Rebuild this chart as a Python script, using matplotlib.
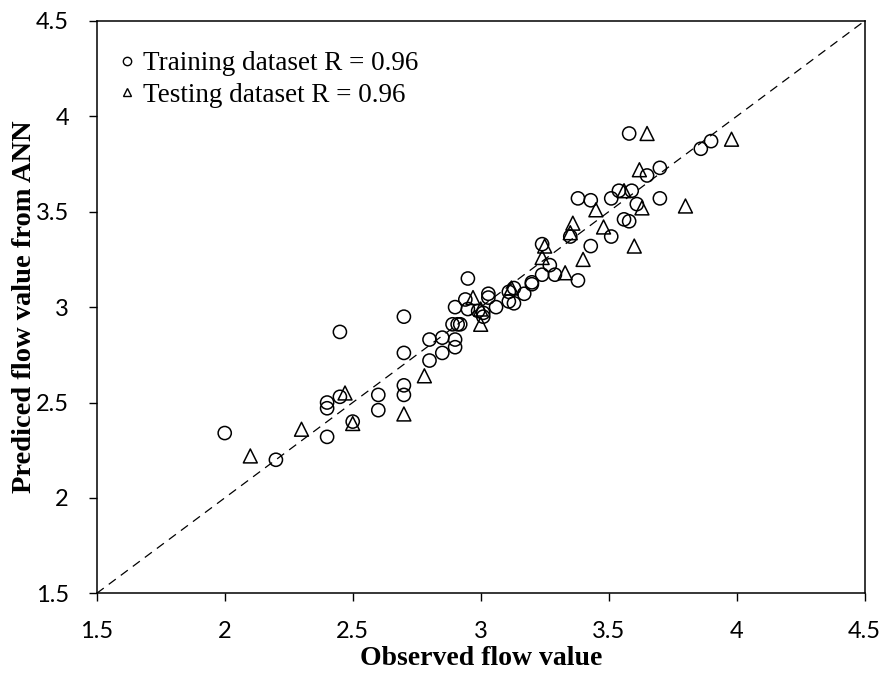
import matplotlib
matplotlib.use("Agg")
import matplotlib.pyplot as plt
from matplotlib.lines import Line2D

# Training dataset (observed, predicted)
train_obs = [2.00, 2.20, 2.40, 2.40, 2.40, 2.45, 2.45, 2.50, 2.60, 2.60,
             2.70, 2.70, 2.70, 2.70, 2.80, 2.80, 2.85, 2.85, 2.90, 2.90,
             2.89, 2.91, 2.92, 2.90, 2.94, 2.95, 2.95, 3.01, 3.01, 3.03,
             3.03, 3.06, 3.11, 3.13, 3.11, 3.13, 3.17, 3.20, 3.20, 3.24,
             3.27, 3.29, 3.38, 3.24, 3.43, 3.35, 3.51, 3.38, 3.43, 3.51,
             3.54, 3.59, 3.61, 3.56, 3.58, 3.70, 3.65, 3.70, 3.58, 3.86,
             3.90, 2.99]
train_pred = [2.34, 2.20, 2.32, 2.47, 2.50, 2.53, 2.87, 2.40, 2.46, 2.54,
              2.54, 2.59, 2.76, 2.95, 2.72, 2.83, 2.76, 2.84, 2.79, 2.83,
              2.91, 2.91, 2.91, 3.00, 3.04, 3.15, 2.99, 2.97, 2.95, 3.07,
              3.05, 3.00, 3.03, 3.02, 3.08, 3.10, 3.07, 3.12, 3.13, 3.17,
              3.22, 3.17, 3.14, 3.33, 3.32, 3.37, 3.37, 3.57, 3.56, 3.57,
              3.61, 3.61, 3.54, 3.46, 3.45, 3.57, 3.69, 3.73, 3.91, 3.83,
              3.87, 2.98]

# Testing dataset (observed, predicted)
test_obs = [2.10, 2.30, 2.47, 2.50, 2.70, 2.78, 2.97, 3.00, 3.00, 3.12,
            3.33, 3.24, 3.25, 3.40, 3.35, 3.36, 3.48, 3.45, 3.56, 3.63,
            3.60, 3.62, 3.65, 3.80, 3.98]
test_pred = [2.22, 2.36, 2.55, 2.39, 2.44, 2.64, 3.05, 2.99, 2.91, 3.10,
             3.18, 3.26, 3.32, 3.25, 3.39, 3.44, 3.42, 3.51, 3.61, 3.52,
             3.32, 3.72, 3.91, 3.53, 3.88]

ticks = [1.5, 2, 2.5, 3, 3.5, 4, 4.5]
tick_labels = ["1.5", "2", "2.5", "3", "3.5", "4", "4.5"]
legend_labels = ["Training dataset R = 0.96", "Testing dataset R = 0.96"]

fig = plt.figure(figsize=(8.85, 6.75), dpi=100)
ax = fig.add_axes([0.1093, 0.121, 0.8677, 0.848])

ax.plot([1.5, 4.5], [1.5, 4.5], linestyle=(0, (7, 5)), color="black", linewidth=0.9, zorder=1)
ax.scatter(train_obs, train_pred, s=90, marker="o", facecolors="none",
           edgecolors="black", linewidths=1.1, zorder=3)
ax.scatter(test_obs, test_pred, s=100, marker="^", facecolors="none",
           edgecolors="black", linewidths=1.1, zorder=3)

ax.set_xlim(1.5, 4.5)
ax.set_ylim(1.5, 4.5)
ax.set_xticks(ticks)
ax.set_xticklabels(tick_labels)
ax.set_yticks(ticks)
ax.set_yticklabels(tick_labels)
for lab in ax.get_xticklabels() + ax.get_yticklabels():
    lab.set_fontfamily("Lato")
    lab.set_fontsize(17)
ax.tick_params(direction="out", length=6, width=1, pad=14)
for sp in ax.spines.values():
    sp.set_linewidth(1.1)

ax.set_xlabel("Observed flow value", fontfamily="Liberation Serif",
              fontweight="bold", fontsize=20)
ax.set_ylabel("Prediced flow value from ANN", fontfamily="Liberation Serif",
              fontweight="bold", fontsize=20.5)
ax.xaxis.set_label_coords(0.5, -0.092)
ax.yaxis.set_label_coords(-0.078, 0.5)

handles = [
    Line2D([], [], marker="o", linestyle="none", markerfacecolor="none",
           markeredgecolor="black", markersize=6, markeredgewidth=1),
    Line2D([], [], marker="^", linestyle="none", markerfacecolor="none",
           markeredgecolor="black", markersize=6, markeredgewidth=1),
]
leg = ax.legend(handles, legend_labels, loc="upper left", frameon=False,
                prop={"family": "Liberation Serif", "size": 19.5},
                handlelength=0.6, handletextpad=0.3, labelspacing=0.25,
                borderaxespad=0.4, bbox_to_anchor=(0.0, 0.985))

fig.savefig("out.png", dpi=100)
